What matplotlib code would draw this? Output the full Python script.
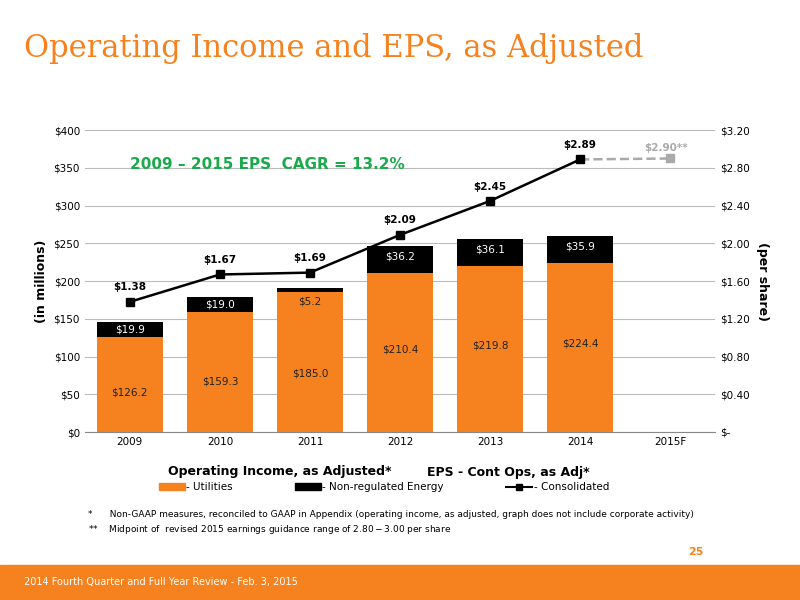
import matplotlib
matplotlib.use("Agg")
import matplotlib.pyplot as plt
from matplotlib.patches import Rectangle
from matplotlib.lines import Line2D
import numpy as np

years = ["2009", "2010", "2011", "2012", "2013", "2014", "2015F"]
utilities = [126.2, 159.3, 185.0, 210.4, 219.8, 224.4]
nonreg = [19.9, 19.0, 5.2, 36.2, 36.1, 35.9]
eps = [1.38, 1.67, 1.69, 2.09, 2.45, 2.89]
eps_2015 = 2.90

ORANGE = "#F5821F"
fig = plt.figure(figsize=(8, 6), dpi=100)
fig.patch.set_facecolor("white")
fig.text(0.03, 0.92, "Operating Income and EPS, as Adjusted", color=ORANGE,
         fontsize=22, family="DejaVu Serif", va="center")

ax = fig.add_axes([0.106, 0.28, 0.788, 0.503])
x = np.arange(len(years))
xb = x[:len(utilities)]
w = 0.74
ax.bar(xb, utilities, w, color=ORANGE, zorder=2)
ax.bar(xb, nonreg, w, bottom=utilities, color="black", zorder=2)
ax.set_ylim(0, 400)
ax.set_xlim(-0.5, len(years) - 0.5)
ax.set_yticks(range(0, 401, 50))
ax.set_yticklabels([f"${v}" for v in range(0, 401, 50)], fontsize=7.5)
ax.set_xticks(x)
ax.set_xticklabels(years, fontsize=7.5)
ax.tick_params(length=0)
ax.grid(axis="y", color="#BBBBBB", lw=0.8, zorder=0)
for s in ["top", "right", "left"]:
    ax.spines[s].set_visible(False)
ax.spines["bottom"].set_color("#888888")
ax.set_ylabel("(in millions)", fontsize=9, fontweight="bold")
for i, (u, n) in enumerate(zip(utilities, nonreg)):
    ax.text(i, u * 0.42 if i < 3 else u * 0.52, f"${u:.1f}", ha="center", va="center", fontsize=7.5, color="#222222", zorder=5)
    if i == 2:
        ax.text(i, u - 12, f"${n:.1f}", ha="center", va="center", fontsize=7.5, color="#222222", zorder=5)
    else:
        ax.text(i, u + n / 2 + (4 if i >= 3 else 0), f"${n:.1f}", ha="center", va="center", fontsize=7.5, color="white", zorder=5)
ax.text(0.0, 355, "2009 \u2013 2015 EPS  CAGR = 13.2%", color="#1AAA4A", fontsize=11, fontweight="bold", va="center")

ax2 = ax.twinx()
ax2.set_ylim(0, 3.2)
ax2.set_yticks(np.arange(0, 3.21, 0.4))
ax2.set_yticklabels(["$-"] + [f"${v:.2f}" for v in np.arange(0.4, 3.21, 0.4)], fontsize=7.5)
ax2.tick_params(length=0)
for s in ["top", "right", "left", "bottom"]:
    ax2.spines[s].set_visible(False)
ax2.set_ylabel("(per share)", fontsize=9, fontweight="bold", rotation=270, labelpad=14)
ax2.plot(xb, eps, color="black", marker="s", ms=6, lw=1.8, zorder=4)
ax2.plot([xb[-1], x[-1]], [eps[-1], eps_2015], color="#AAAAAA", ls="--", lw=1.8, zorder=3)
ax2.plot([x[-1]], [eps_2015], color="#AAAAAA", marker="s", ms=6, ls="none")
for i, e in enumerate(eps):
    ax2.text(i, e + 0.1, f"${e:.2f}", ha="center", va="bottom", fontsize=7.5, fontweight="bold")
ax2.text(x[-1] - 0.05, eps_2015 + 0.06, f"${eps_2015:.2f}**", ha="center", va="bottom", fontsize=7.5, fontweight="bold", color="#AAAAAA")

fig.text(0.35, 0.215, "Operating Income, as Adjusted*", fontsize=9, fontweight="bold", ha="center", va="center")
fig.text(0.635, 0.212, "EPS - Cont Ops, as Adj*", fontsize=9, fontweight="bold", ha="center", va="center")
handles = [Rectangle((0, 0), 1, 1, color=ORANGE), Rectangle((0, 0), 1, 1, color="black"),
           Line2D([], [], color="black", marker="s", ms=5, lw=1.5)]
fig.legend(handles, ["- Utilities", "- Non-regulated Energy", "- Consolidated"], loc="center",
           bbox_to_anchor=(0.48, 0.188), ncol=3, frameon=False, fontsize=7.5,
           handlelength=2.5, columnspacing=6, handletextpad=0.1)

fig.text(0.11, 0.142, "*      Non-GAAP measures, reconciled to GAAP in Appendix (operating income, as adjusted, graph does not include corporate activity)", fontsize=6.5, va="center")
fig.text(0.11, 0.118, "**    Midpoint of  revised 2015 earnings guidance range of $2.80 - $3.00 per share", fontsize=6.5, va="center")

fig.patches.append(Rectangle((0, 0), 1, 0.058, transform=fig.transFigure, color=ORANGE, zorder=0))
fig.text(0.03, 0.03, "2014 Fourth Quarter and Full Year Review - Feb. 3, 2015", color="white", fontsize=7, va="center")
fig.text(0.86, 0.08, "25", color=ORANGE, fontsize=8, fontweight="bold", va="center")

fig.savefig("out.png", dpi=100)
